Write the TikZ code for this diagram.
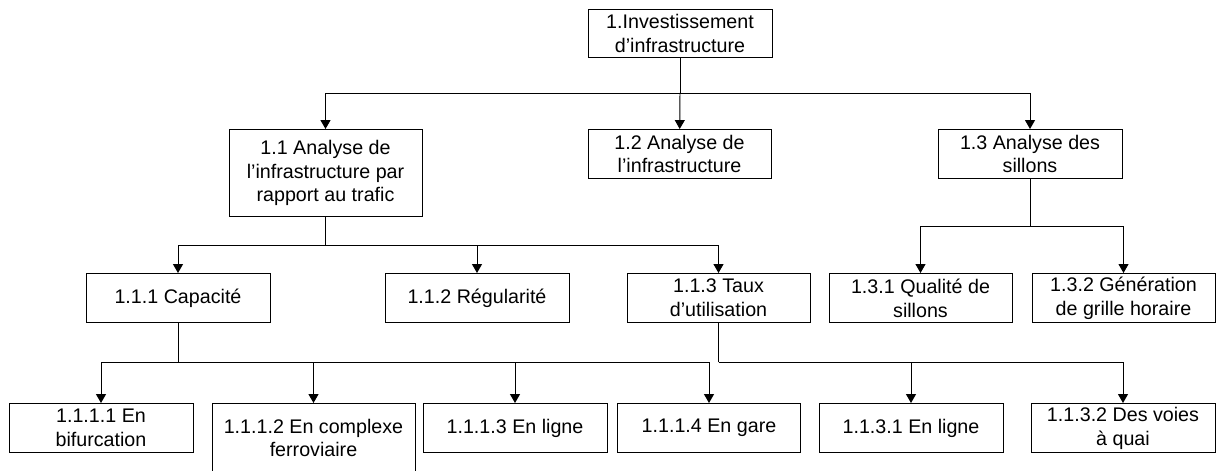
\documentclass[tikz,border=0pt]{standalone}
\usepackage{fontspec}
\setmainfont{Liberation Sans}
\usetikzlibrary{arrows.meta}

\begin{document}
\begin{tikzpicture}[
    x=0.02cm, y=-0.02cm,
    font=\fontsize{11.2}{13.6}\selectfont,
    box/.style={draw, line width=0.55pt, anchor=north, align=center,
        inner sep=1pt, minimum width=3.68cm, minimum height=0.98cm},
    link/.style={draw, line width=0.55pt},
    arrow/.style={link, -{Triangle[width=5.7pt,length=5.1pt]}}
]
\useasboundingbox (0,0) rectangle (1217,470);

% Root and first level.
\node[box, minimum height=0.96cm] (root) at (680,9) {1.Investissement\\d’infrastructure};
\node[box, minimum width=3.86cm, minimum height=1.74cm] (n11) at (325.5,129)
    {1.1 Analyse de\\l’infrastructure par\\rapport au trafic};
\node[box, minimum width=3.66cm] (n12) at (679.5,129) {1.2 Analyse de\\l’infrastructure};
\node[box] (n13) at (1030,129) {1.3 Analyse des\\sillons};

% Second level.
\node[box] (n111) at (178,273) {1.1.1 Capacité};
\node[box] (n112) at (477,273) {1.1.2 Régularité};
\node[box, minimum width=3.66cm] (n113) at (718.5,273) {1.1.3 Taux\\d’utilisation};
\node[box, minimum width=3.66cm] (n131) at (920.5,273) {1.3.1 Qualité de\\sillons};
\node[box, minimum width=3.66cm] (n132) at (1123.5,273) {1.3.2 Génération\\de grille horaire};

% Third level.
\node[box] (n1111) at (101,403) {1.1.1.1 En\\bifurcation};
\node[box, minimum width=4.06cm, minimum height=1.38cm] (n1112) at (313.5,403)
    {1.1.1.2 En complexe\\ferroviaire};
\node[box] (n1113) at (515,403) {1.1.1.3 En ligne};
\node[box, minimum width=3.66cm] (n1114) at (709,403) {1.1.1.4 En gare};
\node[box] (n1131) at (911,403) {1.1.3.1 En ligne};
\node[box] (n1132) at (1123,403) {1.1.3.2 Des voies\\à quai};

% Branch points.
\coordinate (b0) at (root.south |- 0,93);
\coordinate (b11) at (n11.south |- 0,245);
\coordinate (b13) at (n13.south |- 0,226);
\coordinate (b111) at (n111.south |- 0,362);
\coordinate (b113) at (n113.south |- 0,362);

\draw[link] (root.south) -- (b0);
\draw[arrow] (b0) -| (n11);
\draw[arrow] (b0) -- (n12);
\draw[arrow] (b0) -| (n13);

\draw[link] (n11.south) -- (b11);
\draw[arrow] (b11) -| (n111);
\draw[arrow] (b11) -| (n112);
\draw[arrow] (b11) -| (n113);

\draw[link] (n13.south) -- (b13);
\draw[arrow] (b13) -| (n131);
\draw[arrow] (b13) -| (n132);

\draw[link] (n111.south) -- (b111);
\draw[arrow] (b111) -| (n1111);
\draw[arrow] (b111) -| (n1112);
\draw[arrow] (b111) -| (n1113);
\draw[arrow] (b111) -| (n1114);

\draw[link] (n113.south) -- (b113);
\draw[arrow] (b113) -| (n1131);
\draw[arrow] (b113) -| (n1132);
\end{tikzpicture}
\end{document}
